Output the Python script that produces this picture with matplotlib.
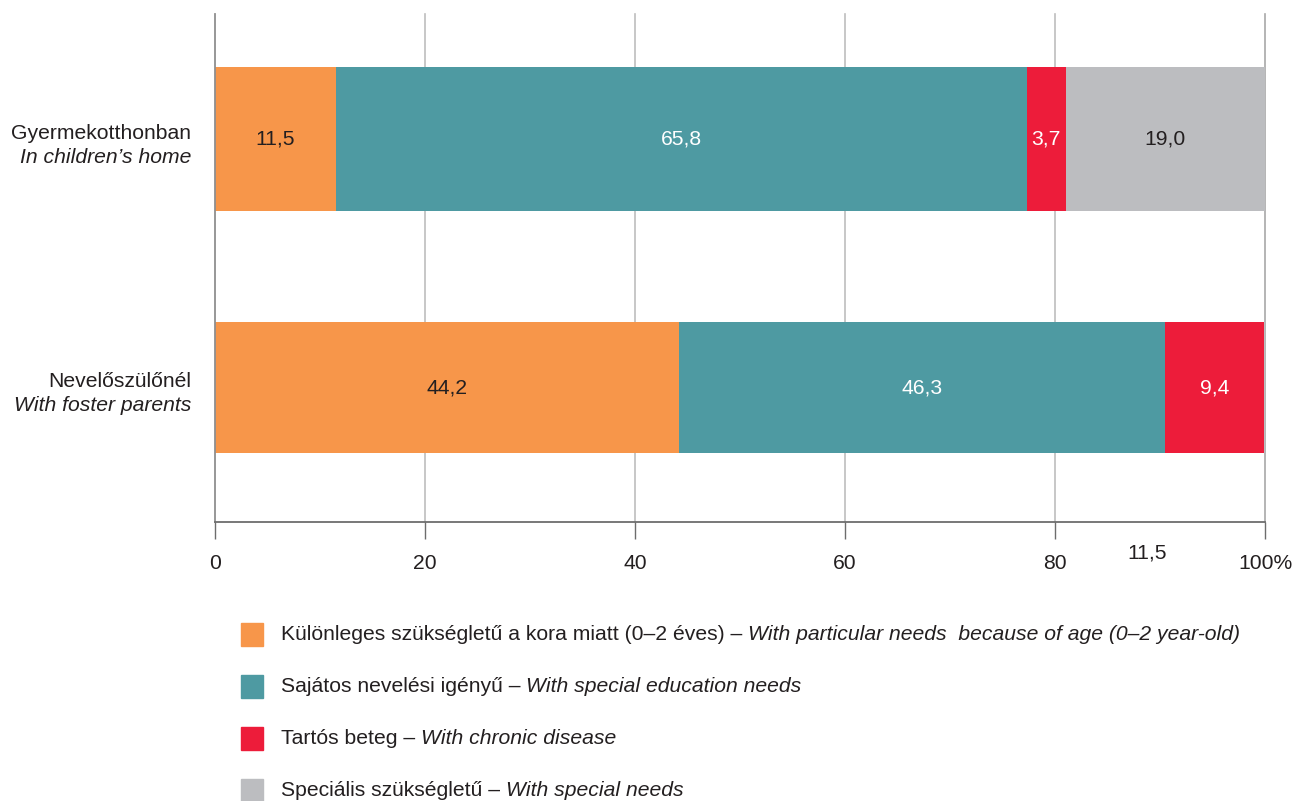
import numpy as np
import matplotlib
matplotlib.use("Agg")
import matplotlib.pyplot as plt
from matplotlib.patches import Rectangle

plt.rcParams['font.family'] = ['Liberation Sans', 'DejaVu Sans']

# Data
cat_hu = ['Gyermekotthonban', 'Nevelőszülőnél']
cat_en = ['In children’s home', 'With foster parents']
particular = [11.5, 44.2]
education = [65.8, 46.3]
chronic = [3.7, 9.4]
special = [19.0, 0.1]
series = [particular, education, chronic, special]
leg_hu = ['Különleges szükségletű a kora miatt (0–2 éves) – ',
          'Sajátos nevelési igényű – ',
          'Tartós beteg – ',
          'Speciális szükségletű – ']
leg_en = ['With particular needs  because of age (0–2 year-old)',
          'With special education needs',
          'With chronic disease',
          'With special needs']
ticks = [0, 20, 40, 60, 80, 100]
tick_labels = ['0', '20', '40', '60', '80', '100%']

colors = ['#F7964A', '#4E9AA2', '#ED1C3A', '#BCBDC0']
label_colors = ['#231F20', 'white', 'white', '#231F20']
txt = '#231F20'
fs = 15.2

fig = plt.figure(figsize=(12.95, 8.01), dpi=100)
ax = fig.add_axes([215/1295, 1 - 522/801, 1050/1295, 508/801])

ypos = np.array([0, 1])
heights = [0.58, 0.527]

left = np.zeros(2)
for vals, c, lc in zip(series, colors, label_colors):
    ax.barh(ypos, vals, left=left, height=heights, color=c, linewidth=0)
    for i, v in enumerate(vals):
        if v >= 1:
            ax.text(left[i] + v / 2, ypos[i], f"{v:.1f}".replace('.', ','),
                    ha='center', va='center', color=lc, fontsize=fs)
    left += np.array(vals)

# stray label under the axis, as in the source
ax.annotate('11,5', xy=(88.8, 1.541), xycoords='data', xytext=(0, -31),
            textcoords='offset pixels', ha='center', va='center',
            color=txt, fontsize=fs, annotation_clip=False)

ax.set_xlim(0, 100)
ax.set_ylim(1.541, -0.503)
ax.set_xticks(ticks)
ax.set_xticklabels(tick_labels, fontsize=fs, color=txt)
ax.tick_params(axis='x', length=12, width=1, color='#6d6d6d', pad=11)
ax.set_yticks([])
for x in ticks[1:]:
    ax.axvline(x, color='#BDBDBD' if x < 100 else '#A8A8A8', lw=1.2, zorder=0,
               clip_on=False)
for s in ['top', 'right']:
    ax.spines[s].set_visible(False)
ax.spines['left'].set_color('#8F8F8F')
ax.spines['left'].set_linewidth(1.3)
ax.spines['bottom'].set_color('#6d6d6d')
ax.spines['bottom'].set_linewidth(1.3)

# category labels
for i in range(2):
    ax.annotate(cat_hu[i], xy=(0, ypos[i]), xytext=(-24, 6),
                textcoords='offset pixels', ha='right', va='center',
                fontsize=fs, color=txt)
    ax.annotate(cat_en[i], xy=(0, ypos[i]), xytext=(-24, -18),
                textcoords='offset pixels', ha='right', va='center',
                fontsize=fs, color=txt, style='italic')

# legend
for k in range(4):
    yc = 1 - (634 + 52 * k) / 801
    fig.patches.append(Rectangle((241/1295, yc - 11.5/801), 22/1295, 23/801,
                                 transform=fig.transFigure, color=colors[k]))
    t1 = fig.text(281/1295, yc, leg_hu[k], ha='left', va='center',
                  fontsize=fs, color=txt)
    ax.annotate(leg_en[k], xy=(1, 0.5), xycoords=t1, ha='left', va='center',
                fontsize=fs, color=txt, style='italic', annotation_clip=False)

fig.savefig('out.png', dpi=100)
